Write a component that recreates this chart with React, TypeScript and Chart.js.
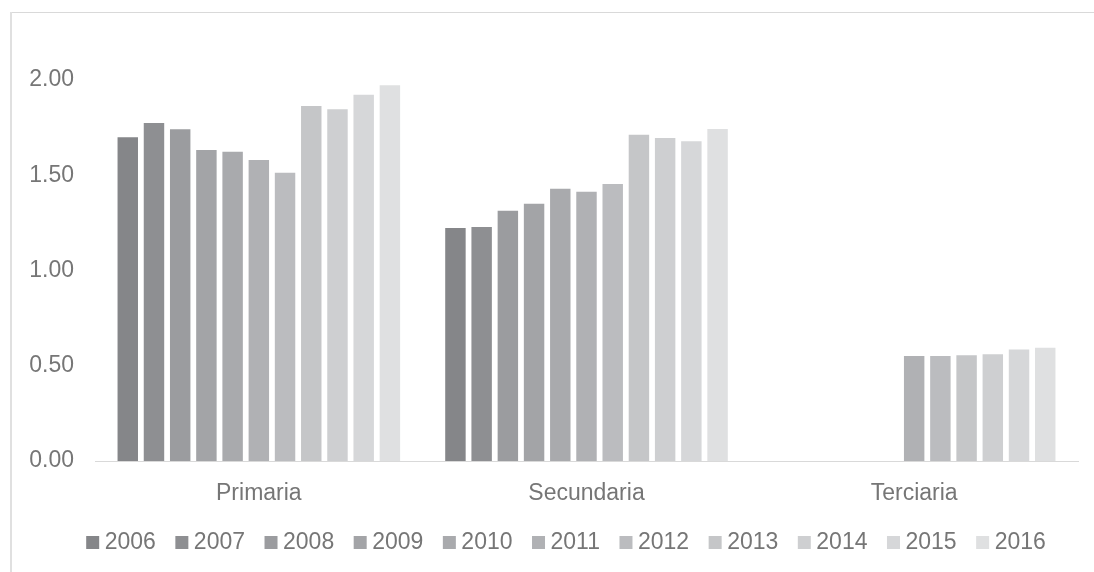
import React, { useEffect, useRef } from "react";
import { Chart, registerables } from "chart.js";

Chart.register(...registerables);

const categories = ["Primaria", "Secundaria", "Terciaria"];
const years = ["2006", "2007", "2008", "2009", "2010", "2011", "2012", "2013", "2014", "2015", "2016"];
const primaria = [1.70, 1.774, 1.742, 1.632, 1.623, 1.58, 1.513, 1.864, 1.846, 1.923, 1.972];
const secundaria = [1.223, 1.229, 1.314, 1.351, 1.429, 1.414, 1.454, 1.712, 1.695, 1.679, 1.743];
const terciaria = [null, null, null, null, null, 0.551, 0.551, 0.555, 0.56, 0.585, 0.595];
const colors = ["#858689", "#8e8f92", "#9b9c9f", "#a3a4a7", "#a9aaad", "#b0b1b4", "#bbbcbf", "#c5c6c8", "#cecfd1", "#d6d7d9", "#dfe0e1"];
const yTicks = [0, 0.5, 1, 1.5, 2];

const FONT = "'Liberation Sans', Arial, sans-serif";
const TEXT = "#767676";

const legendShift = {
  id: "legendShift",
  afterLayout(chart: any) {
    const l = chart.legend;
    if (l) {
      l.left += 16;
      l.right += 16;
    }
  },
};

export default function App() {
  const ref = useRef<HTMLCanvasElement | null>(null);
  useEffect(() => {
    if (!ref.current) return;
    const chart = new Chart(ref.current, {
      type: "bar",
      data: {
        labels: categories,
        datasets: years.map((y, i) => ({
          label: y,
          data: [primaria[i], secundaria[i], terciaria[i]],
          backgroundColor: colors[i],
          borderWidth: 0,
          categoryPercentage: 0.88,
          barPercentage: 0.78,
        })),
      },
      plugins: [legendShift],
      options: {
        responsive: false,
        animation: false,
        devicePixelRatio: 1,
        layout: { padding: { left: 28, right: 16, top: 80, bottom: 8 } },
        plugins: {
          tooltip: { enabled: false },
          legend: {
            position: "bottom",
            labels: {
              usePointStyle: true,
              pointStyle: "rect",
              boxWidth: 1,
              boxHeight: 13,
              padding: 25.5,
              color: TEXT,
              font: { family: FONT, size: 23 },
            },
          },
        },
        scales: {
          x: {
            afterFit: (scale: any) => {
              scale.height = 44.5;
            },
            grid: { display: false, drawTicks: false },
            border: { display: true, color: "#d9d9d9", width: 1 },
            ticks: { color: TEXT, font: { family: FONT, size: 23 }, padding: 19 },
          },
          y: {
            min: 0,
            max: 2,
            afterFit: (scale: any) => {
              scale.width = 67;
            },
            afterBuildTicks: (scale: any) => {
              scale.ticks = yTicks.map((v) => ({ value: v }));
            },
            grid: { display: false, drawTicks: false },
            border: { display: false },
            ticks: {
              color: TEXT,
              font: { family: FONT, size: 23 },
              padding: 21,
              callback: (v: any) => Number(v).toFixed(2),
            },
          },
        },
      },
    });
    return () => chart.destroy();
  }, []);

  return (
    <>
      <canvas
        ref={ref}
        width={1094}
        height={572}
        style={{ position: "fixed", left: 0, top: 0, width: 1094, height: 572 }}
      />
      <div style={{ position: "fixed", left: 10, top: 12, width: 1084, height: 1, background: "#d9d9d9" }} />
      <div style={{ position: "fixed", left: 10, top: 12, width: 2, height: 560, background: "#e0e0e0" }} />
    </>
  );
}
